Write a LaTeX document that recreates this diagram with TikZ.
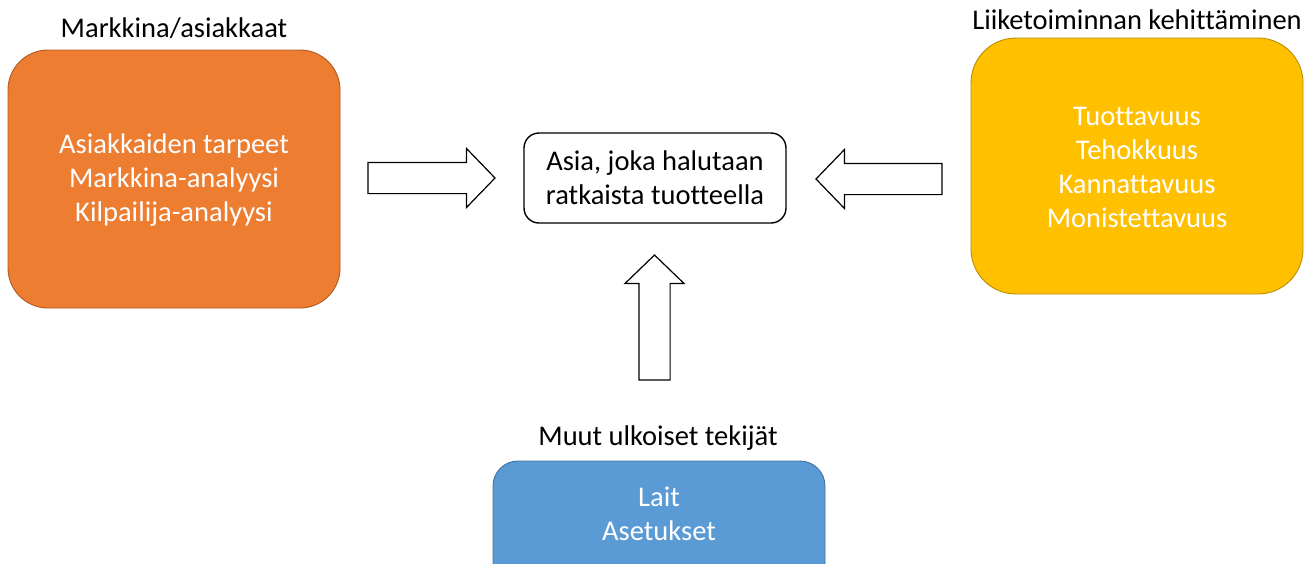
\documentclass[tikz,border=0pt]{standalone}
\usepackage{fontspec}
\setmainfont{Carlito}[Ligatures={NoCommon}]
\usetikzlibrary{shapes.arrows}
\definecolor{orangefill}{HTML}{ED7D31}
\definecolor{orangeline}{HTML}{AE5A21}
\definecolor{goldfill}{HTML}{FFC000}
\definecolor{goldline}{HTML}{BC8C00}
\definecolor{bluefill}{HTML}{5B9BD5}
\definecolor{blueline}{HTML}{41719C}
\tikzset{
  txt/.style={font=\fontsize{28.5}{34}\selectfont, align=center},
  areabox/.style={txt, rounded corners=#1, line width=0.9pt, text=white, inner sep=0pt},
  titletxt/.style={txt, text=black, inner sep=0pt},
  centerbox/.style={txt, draw=black, fill=white, rounded corners=15pt, line width=1.4pt,
    minimum width=262pt, minimum height=90pt, inner sep=0pt},
  blockarrow/.style={single arrow, draw=black, fill=white, line width=1.2pt,
    minimum width=58pt, single arrow head extend=14pt, single arrow tip angle=92,
    inner xsep=0pt, inner ysep=15pt, outer sep=0pt, anchor=tip}
}
\begin{document}
\begin{tikzpicture}[x=1pt, y=-1pt]
  \useasboundingbox (0,0) rectangle (1310,563);
  \clip (0,0) rectangle (1310,563);

  % market / customers
  \node[areabox=40pt, draw=orangeline, fill=orangefill, minimum width=332pt, minimum height=258pt]
    (market) at (174,179) {};
  \node[txt, text=white] (markettxt) at (174,180) {Asiakkaiden tarpeet\\Markkina-analyysi\\Kilpailija-analyysi};
  \node[titletxt] (markettitle) at (174,28) {Markkina/asiakkaat};

  % business development
  \node[areabox=45pt, draw=goldline, fill=goldfill, minimum width=332pt, minimum height=256pt]
    (business) at (1137,166) {};
  \node[txt, text=white] (businesstxt) at (1137,167) {Tuottavuus\\Tehokkuus\\Kannattavuus\\Monistettavuus};
  \node[titletxt] (businesstitle) at (1137,20) {Liiketoiminnan kehittäminen};

  % other external factors
  \node[areabox=25pt, draw=blueline, fill=bluefill, minimum width=332pt, minimum height=160pt]
    (external) at (659,541) {};
  \node[txt, text=white] (externaltxt) at (659,514) {Lait\\Asetukset};
  \node[titletxt] (externaltitle) at (658,438) {Muut ulkoiset tekijät};

  % the problem to solve
  \node[centerbox] (goal) at (655,178) {Asia, joka halutaan\\ratkaista tuotteella};

  % block arrows pointing at the goal, placed by their tips
  \node[blockarrow, minimum height=127pt] (fromleft) at (495,178) {};
  \node[blockarrow, minimum height=126pt, rotate=180] (fromright) at (816,179) {};
  \node[blockarrow, minimum height=125pt, rotate=90] (frombelow) at (654.5,255) {};
\end{tikzpicture}
\end{document}
